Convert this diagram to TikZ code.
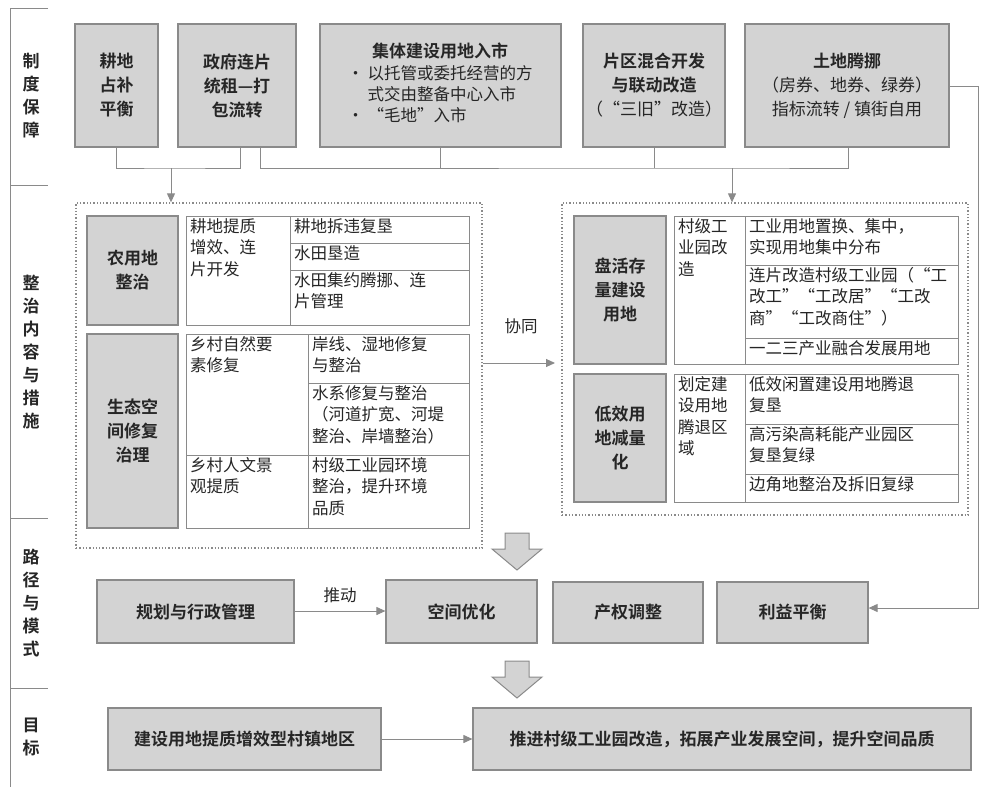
\documentclass[tikz,border=0pt]{standalone}
\usepackage{fontspec}
\setmainfont{Noto Sans CJK SC}[BoldFont={Noto Sans CJK SC Bold}]
\usetikzlibrary{arrows.meta}
\definecolor{gf}{HTML}{D3D3D3}
\definecolor{bd}{HTML}{8A8A8A}
\definecolor{tx}{HTML}{262626}
\tikzset{
  gb/.style={draw=bd,fill=gf,line width=1.2pt,font=\fontsize{17}{24}\selectfont\bfseries,text=tx,align=center,inner sep=2pt},
  cellbox/.style={draw=bd,fill=white,line width=1pt},
  cell/.style={font=\fontsize{16.5}{21.5}\selectfont,text=tx,align=left,inner xsep=4pt,inner ysep=2pt,anchor=north west},
  conn/.style={draw=bd,line width=1pt},
  arr/.style={conn,-{Triangle[length=9pt,width=8pt]}},
  dots/.style={draw=bd,line width=1.3pt,dotted},
  big/.style={draw=bd,fill=gf,line width=1pt},
  sect/.style={font=\fontsize{17}{23}\selectfont\bfseries,text=tx,align=center},
  lab/.style={font=\fontsize{16.5}{21}\selectfont,text=tx}
}
\newcommand\gbox[6]{\node[gb,minimum width={#4-#2},minimum height={#5-#3}] (#1) at ({(#2+#4)/2},{(#3+#5)/2}) {#6};}
\newcommand\cbox[6]{\draw[cellbox] (#2,#3) rectangle (#4,#5);\node[cell,text width={#4-#2-8}] (#1) at (#2,#3) {#6};}
\newcommand\bigarrow[2]{\draw[big] (#1-12,#2) -- (#1+12,#2) -- (#1+12,#2+16) -- (#1+25,#2+16) -- (#1,#2+37) -- (#1-25,#2+16) -- (#1-12,#2+16) -- cycle;}
\begin{document}
\begin{tikzpicture}[x=1pt,y=-1pt]
\useasboundingbox (0,0) rectangle (1001,795);
% section brackets
\draw[conn] (48,8) -- (10,8) -- (10,787);
\foreach \yy in {185,518,688} \draw[conn] (10,\yy) -- (48,\yy);
\node[sect] (s1) at (31,96) {制\\度\\保\\障};
\node[sect] (s2) at (31,352) {整\\治\\内\\容\\与\\措\\施};
\node[sect] (s3) at (31,603) {路\\径\\与\\模\\式};
\node[sect] (s4) at (31,737) {目\\标};
% top boxes
\gbox{t1}{75}{24}{158}{147}{耕地\\占补\\平衡}
\gbox{t2}{178}{24}{296}{147}{政府连片\\统租—打\\包流转}
\gbox{t3}{320}{24}{561}{147}{}
\node[font=\fontsize{17}{22}\selectfont\bfseries,text=tx] (t3h) at (440,51) {集体建设用地入市};
\node[font=\fontsize{16.5}{21}\selectfont,text=tx,align=left,anchor=north] (t3b) at (440,62) {• 以托管或委托经营的方\\\phantom{• }式交由整备中心入市\\• “毛地”入市};
\gbox{t4}{583}{24}{725}{147}{片区混合开发\\与联动改造\\{\mdseries （“三旧”改造）}}
\gbox{t5}{745}{24}{949}{147}{土地腾挪\\{\mdseries （房券、地券、绿券）}\\{\mdseries 指标流转 / 镇街自用}}
% connectors from top
\coordinate (j1) at (171,168);
\coordinate (j2) at (732,168);
\draw[conn] (t1.south -| 116,0) |- (j1) -| (t2.south -| 240,0);
\draw[conn] (t2.south -| 260,0) |- (j2) -| (t5.south -| 848,0);
\draw[conn] (t3.south) -- (t3.south |- j2);
\draw[conn] (t4.south) -- (t4.south |- j2);
% dotted boxes
\node[dots,minimum width=406,minimum height=345] (L) at (279,375.5) {};
\node[dots,minimum width=406,minimum height=312] (R) at (765,359) {};
\draw[arr] (j1) -- (L.north -| j1);
\draw[arr] (j2) -- (R.north -| j2);
% left content
\gbox{a1}{87}{216}{178}{325}{农用地\\整治}
\cbox{a2}{186}{216}{290}{325}{耕地提质\\增效、连\\片开发}
\cbox{a3}{290}{216}{469}{243}{耕地拆违复垦}
\cbox{a4}{290}{243}{469}{270}{水田垦造}
\cbox{a5}{290}{270}{469}{325}{水田集约腾挪、连\\片管理}
\gbox{b1}{87}{334}{178}{528}{生态空\\间修复\\治理}
\cbox{b2}{186}{334}{308}{455}{乡村自然要\\素修复}
\cbox{b3}{186}{455}{308}{528}{乡村人文景\\观提质}
\cbox{b4}{308}{334}{469}{383}{岸线、湿地修复\\与整治}
\cbox{b5}{308}{383}{469}{455}{水系修复与整治\\（河道扩宽、河堤\\整治、岸墙整治）}
\cbox{b6}{308}{455}{469}{528}{村级工业园环境\\整治，提升环境\\品质}
% right content
\gbox{c1}{574}{216}{666}{364}{盘活存\\量建设\\用地}
\cbox{c2}{674}{216}{745}{364}{村级工\\业园改\\造}
\cbox{c3}{745}{216}{958}{265}{工业用地置换、集中，\\实现用地集中分布}
\cbox{c4}{745}{265}{958}{338}{连片改造村级工业园（“工\\改工”“工改居”“工改\\商”“工改商住”）}
\cbox{c5}{745}{338}{958}{364}{一二三产业融合发展用地}
\gbox{d1}{574}{374}{666}{502}{低效用\\地减量\\化}
\cbox{d2}{674}{374}{745}{502}{划定建\\设用地\\腾退区\\域}
\cbox{d3}{745}{374}{958}{424}{低效闲置建设用地腾退\\复垦}
\cbox{d4}{745}{424}{958}{474}{高污染高耗能产业园区\\复垦复绿}
\cbox{d5}{745}{474}{958}{502}{边角地整治及拆旧复绿}
% 协同
\coordinate (xt) at (555,363);
\draw[arr] (L.east |- xt) -- (xt);
\node[lab] (xl) at (521,326) {协同};
% big arrows
\bigarrow{517}{533}
\bigarrow{517}{661}
% path row
\gbox{p1}{97}{580}{294}{643}{规划与行政管理}
\gbox{p2}{386}{580}{537}{643}{空间优化}
\gbox{p3}{553}{582}{703}{643}{产权调整}
\gbox{p4}{717}{582}{868}{643}{利益平衡}
\draw[arr] (p1.east |- 0,611) -- (p2.west |- 0,611);
\node[lab] (tl) at (340,595) {推动};
\coordinate (k1) at (978,86);
\coordinate (k2) at (978,608);
\draw[arr] (t5.east |- k1) -- (k1) -- (k2) -- (p4.east |- k2);
% goals
\gbox{g1}{108}{708}{381}{770}{建设用地提质增效型村镇地区}
\gbox{g2}{473}{708}{971}{770}{推进村级工业园改造，拓展产业发展空间，提升空间品质}
\draw[arr] (g1) -- (g2);
\end{tikzpicture}
\end{document}
